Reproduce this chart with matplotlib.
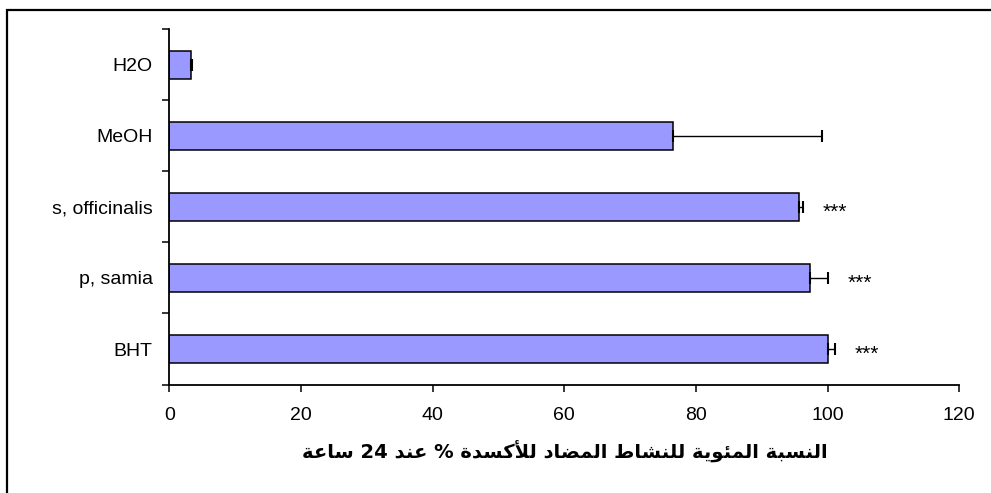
import matplotlib
matplotlib.use("Agg")
import matplotlib.pyplot as plt
from matplotlib.patches import Rectangle

# data, listed top to bottom as in the chart
samples = ["H2O", "MeOH", "s, officinalis", "p, samia", "BHT"]
activity = [3.2, 76.5, 95.7, 97.3, 100.1]
errors = [0.3, 22.6, 0.6, 2.8, 1.0]
signif = ["", "", "***", "***", "***"]
xticks = [0, 20, 40, 60, 80, 100, 120]
xlabel = "النسبة المئوية للنشاط المضاد للأكسدة % عند 24 ساعة"


# minimal arabic shaping (matplotlib has none): presentation forms + visual order
DUAL = {"ب": 0xFE8F, "س": 0xFEB1, "ش": 0xFEB5, "ض": 0xFEBD, "ط": 0xFEC1,
        "ع": 0xFEC9, "ك": 0xFED9, "ل": 0xFEDD, "م": 0xFEE1, "ن": 0xFEE5,
        "ي": 0xFEF1, "ئ": 0xFE89}
RIGHT = {"ا": 0xFE8D, "أ": 0xFE83, "د": 0xFEA9, "و": 0xFEED, "ة": 0xFE93,
         "لا": 0xFEFB, "لأ": 0xFEF7}


def shape_arabic(text):
    toks = []
    i = 0
    while i < len(text):
        if text[i] == "ل" and i + 1 < len(text) and text[i + 1] in "اأ":
            toks.append(text[i:i + 2])
            i += 2
        else:
            toks.append(text[i])
            i += 1
    out = []
    for k, t in enumerate(toks):
        prev = toks[k - 1] if k > 0 else ""
        nxt = toks[k + 1] if k + 1 < len(toks) else ""
        jp = prev in DUAL
        if t in DUAL:
            jn = nxt in DUAL or nxt in RIGHT
            base = DUAL[t]
            off = 3 if (jp and jn) else 1 if jp else 2 if jn else 0
            out.append(chr(base + off))
        elif t in RIGHT:
            out.append(chr(RIGHT[t] + (1 if jp else 0)))
        else:
            out.append(t)
    # reverse for right-to-left display, keep digit runs left-to-right
    vis = "".join(out)[::-1]
    res, run = "", ""
    for c in vis:
        if c.isdigit():
            run += c
        else:
            res += run[::-1] + c
            run = ""
    return res + run[::-1]


plt.rcParams["font.family"] = ["Liberation Sans", "DejaVu Sans"]

fig = plt.figure(figsize=(9.91, 4.93), dpi=100)
ax = fig.add_axes([0.171, 0.22, 0.797, 0.7206])

pos = list(range(len(samples)))
ax.barh(pos, activity, height=0.4, color="#9999FF", edgecolor="black", linewidth=1.1)
ax.errorbar(activity, pos, xerr=[[0] * len(errors), errors], fmt="none",
            ecolor="black", elinewidth=1.0, capsize=4.2, capthick=1.5)
for p, v, e, s in zip(pos, activity, errors, signif):
    if s:
        ax.text(v + e + 3.0, p + 0.08, s, ha="left", va="center", fontsize=15)

ax.set_xlim(0, 120)
ax.set_ylim(len(samples) - 0.5, -0.5)
ax.set_xticks(xticks)
ax.set_yticks([p - 0.5 for p in pos] + [len(samples) - 0.5])
ax.set_yticklabels([])
ax.set_yticks(pos, minor=True)
ax.set_yticklabels(samples, minor=True)
ax.tick_params(axis="y", which="major", direction="out", length=5, width=1.1)
ax.tick_params(axis="y", which="minor", length=0, pad=12, labelsize=14)
ax.tick_params(axis="x", direction="out", length=5, width=1.1, pad=11, labelsize=14)
for side in ["top", "right"]:
    ax.spines[side].set_visible(False)
for side in ["left", "bottom"]:
    ax.spines[side].set_linewidth(1.3)

ax.set_xlabel(shape_arabic(xlabel), family="DejaVu Sans", fontweight="bold",
              fontsize=14, labelpad=12)

# outer frame of the pasted chart, cut at right and bottom
fig.patches.append(Rectangle((7 / 991, -0.1), 1.2, 1.1 - 10 / 493, transform=fig.transFigure,
                             fill=False, edgecolor="black", linewidth=1.6))

fig.savefig("out.png", dpi=100)
